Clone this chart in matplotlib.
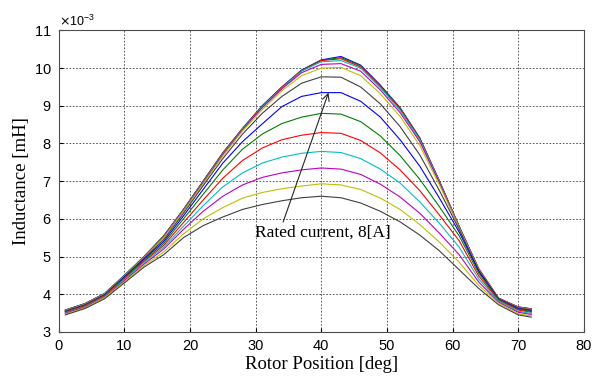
import matplotlib
matplotlib.use("Agg")
import matplotlib.pyplot as plt
from matplotlib.ticker import ScalarFormatter

# rotor position [deg]
position = [1, 4, 7, 10, 13, 16, 19, 22, 25, 28, 31, 34, 37, 40, 43, 46, 49, 52, 55, 58, 61, 64, 67, 70, 72]

# inductance curves (x 1e-3), lowest current first
curve_01 = [3.58, 3.75, 4.02, 4.50, 5.00, 5.55, 6.25, 7.00, 7.75, 8.40, 9.00, 9.50, 9.95, 10.22, 10.31, 10.08, 9.55, 8.95, 8.15, 7.00, 5.80, 4.65, 3.88, 3.66, 3.61]
curve_02 = [3.58, 3.75, 4.02, 4.50, 5.00, 5.55, 6.25, 7.00, 7.75, 8.40, 9.00, 9.50, 9.94, 10.21, 10.28, 10.06, 9.53, 8.94, 8.14, 7.00, 5.80, 4.66, 3.89, 3.66, 3.61]
curve_03 = [3.57, 3.74, 4.01, 4.49, 4.99, 5.54, 6.24, 6.99, 7.74, 8.39, 8.99, 9.49, 9.93, 10.20, 10.25, 10.03, 9.50, 8.92, 8.12, 7.00, 5.80, 4.68, 3.90, 3.66, 3.61]
curve_04 = [3.57, 3.74, 4.01, 4.49, 4.99, 5.53, 6.23, 6.98, 7.72, 8.38, 8.97, 9.47, 9.92, 10.17, 10.20, 10.00, 9.48, 8.88, 8.10, 6.98, 5.79, 4.65, 3.89, 3.65, 3.60]
curve_05 = [3.56, 3.73, 4.00, 4.48, 4.98, 5.52, 6.22, 6.96, 7.70, 8.36, 8.95, 9.45, 9.88, 10.10, 10.12, 9.92, 9.42, 8.82, 8.05, 6.95, 5.78, 4.64, 3.89, 3.65, 3.60]
curve_06 = [3.56, 3.73, 4.00, 4.47, 4.97, 5.50, 6.20, 6.93, 7.67, 8.33, 8.90, 9.40, 9.80, 10.00, 10.02, 9.80, 9.32, 8.72, 7.95, 6.90, 5.76, 4.63, 3.88, 3.64, 3.59]
curve_07 = [3.55, 3.72, 3.99, 4.46, 4.95, 5.45, 6.15, 6.88, 7.60, 8.25, 8.80, 9.25, 9.60, 9.77, 9.76, 9.50, 9.05, 8.45, 7.70, 6.75, 5.72, 4.62, 3.88, 3.63, 3.58]
curve_08 = [3.54, 3.71, 3.98, 4.45, 4.93, 5.40, 6.08, 6.78, 7.48, 8.05, 8.52, 8.98, 9.25, 9.35, 9.35, 9.12, 8.70, 8.10, 7.40, 6.55, 5.65, 4.60, 3.87, 3.62, 3.56]
curve_09 = [3.53, 3.70, 3.97, 4.43, 4.90, 5.35, 6.00, 6.65, 7.30, 7.85, 8.25, 8.53, 8.70, 8.80, 8.78, 8.58, 8.20, 7.68, 7.05, 6.32, 5.55, 4.55, 3.86, 3.60, 3.54]
curve_10 = [3.52, 3.69, 3.96, 4.41, 4.87, 5.30, 5.90, 6.50, 7.08, 7.55, 7.88, 8.10, 8.22, 8.29, 8.27, 8.08, 7.75, 7.30, 6.75, 6.10, 5.42, 4.48, 3.84, 3.58, 3.52]
curve_11 = [3.50, 3.67, 3.94, 4.39, 4.84, 5.25, 5.80, 6.35, 6.85, 7.22, 7.48, 7.64, 7.74, 7.79, 7.76, 7.60, 7.32, 6.95, 6.45, 5.88, 5.25, 4.40, 3.82, 3.55, 3.49]
curve_12 = [3.49, 3.66, 3.93, 4.36, 4.80, 5.20, 5.72, 6.20, 6.60, 6.90, 7.10, 7.22, 7.30, 7.35, 7.32, 7.18, 6.92, 6.58, 6.15, 5.62, 5.05, 4.32, 3.79, 3.52, 3.46]
curve_13 = [3.47, 3.64, 3.91, 4.33, 4.76, 5.12, 5.60, 6.00, 6.30, 6.55, 6.70, 6.80, 6.87, 6.93, 6.90, 6.78, 6.55, 6.25, 5.85, 5.38, 4.85, 4.23, 3.76, 3.48, 3.42]
curve_14 = [3.45, 3.62, 3.88, 4.30, 4.72, 5.05, 5.50, 5.82, 6.05, 6.25, 6.38, 6.48, 6.56, 6.60, 6.56, 6.42, 6.20, 5.92, 5.57, 5.15, 4.65, 4.15, 3.72, 3.45, 3.39]

curves = [curve_01, curve_02, curve_03, curve_04, curve_05, curve_06, curve_07,
          curve_08, curve_09, curve_10, curve_11, curve_12, curve_13, curve_14]

# old matlab color order
matlab_colors = [(0, 0, 1), (0, 0.5, 0), (1, 0, 0), (0, 0.75, 0.75),
                 (0.75, 0, 0.75), (0.75, 0.75, 0), (0.25, 0.25, 0.25)]

rated_x = 41.1
rated_y = 9.35

fig = plt.figure(figsize=(6.0, 3.81), dpi=100)
ax = fig.add_axes([0.098, 0.129, 0.875, 0.791])

for i, c in enumerate(curves):
    ax.plot(position, [v * 1e-3 for v in c], color=matlab_colors[i % 7], lw=0.8)

ax.set_xlim(0, 80)
ax.set_ylim(3e-3, 11e-3)
ax.set_xticks(range(0, 81, 10))
ax.set_yticks([v * 1e-3 for v in range(3, 12)])

# force the x 10^-3 multiplier like matlab does
fmt = ScalarFormatter(useMathText=True)
fmt.set_powerlimits((-3, -3))
ax.yaxis.set_major_formatter(fmt)
ax.yaxis.get_offset_text().set_fontsize(9)
ax.yaxis.get_offset_text().set_family('Liberation Sans')

ax.grid(True, color='0.25', linestyle=(0, (2, 2)), linewidth=0.6)
ax.tick_params(direction='in', length=3, labelsize=10.5, pad=5)
for lab in ax.get_xticklabels() + ax.get_yticklabels():
    lab.set_family('Liberation Sans')
for sp in ax.spines.values():
    sp.set_color('0.3')
    sp.set_linewidth(0.8)

ax.set_xlabel('Rotor Position [deg]', family='Liberation Serif', fontsize=13.5)
ax.set_ylabel('Inductance [mH]', family='Liberation Serif', fontsize=13.5)
ax.xaxis.set_label_coords(0.5, -0.08)
ax.yaxis.set_label_coords(-0.055, 0.5)

ax.annotate('Rated current, 8[A]', xy=(rated_x, rated_y * 1e-3), xytext=(29.9, 5.63e-3),
            family='Liberation Serif', fontsize=12.5, va='center', ha='left',
            arrowprops=dict(arrowstyle='->', color='0.15', lw=0.8,
                            shrinkA=0, shrinkB=0, relpos=(0.2, 1.0)))

fig.savefig('out.png', dpi=100)
